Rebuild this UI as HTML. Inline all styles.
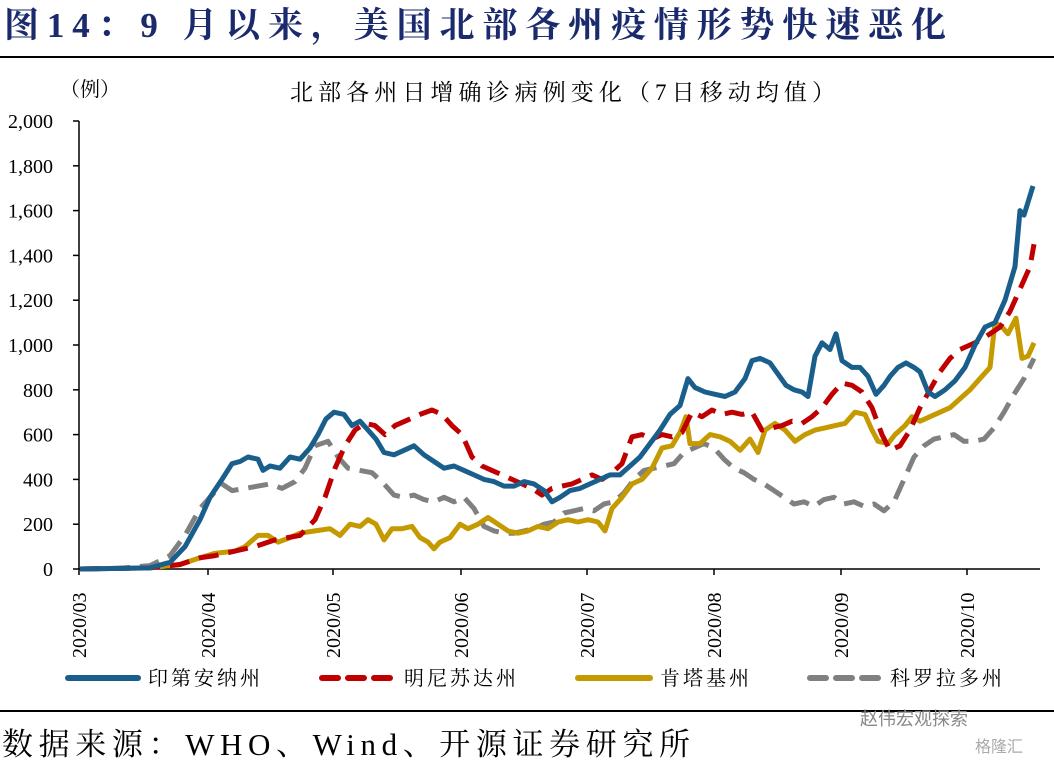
<!DOCTYPE html>
<html><head><meta charset="utf-8">
<style>
body{margin:0;background:#fff;width:1054px;height:766px;overflow:hidden;font-family:"Liberation Serif","Noto Serif CJK SC",serif;}
</style></head><body>
<svg width="1054" height="766" xmlns="http://www.w3.org/2000/svg" id="s" style="position:absolute;left:0;top:0">
<text x="4" y="37" font-size="35" font-weight="bold" fill="#1a2a6c" textLength="942" lengthAdjust="spacing" font-family="Liberation Serif,Noto Serif CJK SC,serif">图14：9 月以来，美国北部各州疫情形势快速恶化</text>
<line x1="0" y1="57" x2="1054" y2="57" stroke="#000" stroke-width="2"/>
<text x="60" y="96" font-size="20" fill="#000" font-family="Liberation Serif,Noto Serif CJK SC,serif">（例）</text>
<text x="290" y="100" font-size="23" fill="#000" textLength="545" lengthAdjust="spacing" font-family="Liberation Serif,Noto Serif CJK SC,serif">北部各州日增确诊病例变化（7日移动均值）</text>
<g id="axes" stroke="#000" stroke-width="1.5"></g>
<g id="lab" font-size="20" fill="#000" font-family="Liberation Serif,serif"></g>
<g id="lines" fill="none" stroke-linejoin="round"></g>
<g font-size="20" font-family="Liberation Serif,Noto Serif CJK SC,serif" letter-spacing="3">
<line x1="68" y1="678" x2="138" y2="678" stroke="#1a5f8c" stroke-width="6" stroke-linecap="round"/>
<text x="148" y="685">印第安纳州</text>
<line x1="322" y1="678" x2="392" y2="678" stroke="#c00000" stroke-width="6" stroke-dasharray="16,10" stroke-linecap="round"/>
<text x="404" y="685">明尼苏达州</text>
<line x1="578" y1="678" x2="650" y2="678" stroke="#c49a00" stroke-width="6" stroke-linecap="round"/>
<text x="660" y="685">肯塔基州</text>
<line x1="810" y1="678" x2="880" y2="678" stroke="#808080" stroke-width="6" stroke-dasharray="16,10" stroke-linecap="round"/>
<text x="890" y="685">科罗拉多州</text>
</g>
<line x1="0" y1="711" x2="1054" y2="711" stroke="#000" stroke-width="2"/>
<text x="2" y="755" font-size="31" fill="#000" textLength="688" lengthAdjust="spacing" font-family="Liberation Serif,Noto Serif CJK SC,serif">数据来源：WHO、Wind、开源证券研究所</text>
<text x="860" y="725" font-size="18" fill="#888" font-family="Liberation Sans,Noto Sans CJK SC,sans-serif">赵伟宏观探索</text>
<text x="975" y="752" font-size="16" fill="#aaa" font-family="Liberation Sans,Noto Sans CJK SC,sans-serif">格隆汇</text>
</svg>
<script>
var NS="http://www.w3.org/2000/svg";
function el(p,t,a,txt){var e=document.createElementNS(NS,t);for(var k in a)e.setAttribute(k,a[k]);if(txt!==undefined)e.textContent=txt;document.getElementById(p).appendChild(e);return e;}
function Y(v){return 569-v*0.224;}
el("axes","line",{x1:79,y1:121,x2:79,y2:569});
el("axes","line",{x1:79,y1:569,x2:1040,y2:569});
for(var v=0;v<=2000;v+=200){var y=Y(v);el("axes","line",{x1:73,y1:y,x2:79,y2:y});
el("lab","text",{x:53,y:y+7,"text-anchor":"end"},v.toLocaleString("en-US"));}
var mx=[79,208,333,461,587,714,841,967];
for(var i=0;i<mx.length;i++){el("axes","line",{x1:mx[i],y1:569,x2:mx[i],y2:575});
el("lab","text",{x:0,y:0,transform:"translate("+(mx[i]+7)+",658) rotate(-90)"},"2020/"+("0"+(i+3)).slice(-2));}
function L(pts,col,dash){var s=pts.map(function(p){return p[0]+","+Y(p[1]).toFixed(1)}).join(" ");var a={points:s,stroke:col,"stroke-width":5};if(dash){a["stroke-dasharray"]=dash;}el("lines","polyline",a);}
L([[80,0],[120,3],[150,15],[170,60],[185,150],[200,270],[210,320],[222,380],[232,350],[245,360],[258,370],[270,380],[282,360],[295,390],[305,450],[315,550],[328,570],[338,500],[348,450],[360,440],[372,430],[384,380],[394,330],[404,320],[414,330],[424,310],[434,300],[444,320],[454,300],[464,320],[474,270],[484,190],[494,170],[504,160],[514,160],[524,170],[534,180],[544,200],[554,210],[564,250],[574,260],[584,270],[594,260],[604,290],[614,300],[624,340],[634,400],[644,440],[654,450],[664,460],[674,470],[684,520],[694,540],[704,560],[714,540],[724,490],[734,450],[744,430],[754,400],[764,380],[774,350],[784,320],[794,290],[804,300],[814,280],[824,310],[834,320],[844,290],[854,300],[864,280],[874,290],[884,260],[894,300],[904,400],[914,500],[924,550],[934,580],[944,590],[954,600],[964,570],[974,570],[984,580],[994,630],[1004,700],[1014,780],[1024,850],[1034,940]],"#808080","20,10");
L([[80,0],[150,5],[180,20],[200,50],[215,70],[235,80],[245,100],[258,150],[268,150],[278,120],[290,140],[300,160],[315,170],[330,180],[340,150],[350,200],[360,190],[368,220],[376,200],[384,130],[392,180],[402,180],[412,190],[420,140],[428,120],[434,90],[440,120],[450,140],[460,200],[468,180],[478,200],[488,230],[498,200],[508,170],[518,160],[528,170],[538,190],[548,180],[558,210],[568,220],[578,210],[588,220],[598,210],[605,170],[612,270],[622,320],[632,380],[642,400],[652,450],[662,540],[672,550],[680,610],[686,680],[690,560],[700,560],[710,600],[720,590],[730,570],[740,530],[750,580],[758,520],[765,620],[775,650],[785,620],[795,570],[805,600],[815,620],[825,630],[835,640],[845,650],[855,700],[865,690],[872,620],[878,570],[888,560],[895,600],[905,640],[912,680],[920,660],[930,680],[940,700],[950,720],[960,760],[970,800],[980,850],[990,900],[995,1100],[1002,1080],[1008,1050],[1016,1120],[1022,940],[1028,950],[1034,1010]],"#c49a00");
L([[80,0],[150,5],[180,20],[200,50],[215,60],[235,80],[255,100],[275,130],[300,150],[315,220],[325,320],[335,450],[345,550],[355,620],[365,650],[375,640],[385,600],[395,640],[405,660],[420,690],[432,710],[442,690],[452,640],[462,600],[472,500],[482,460],[492,440],[502,420],[512,400],[522,380],[532,360],[542,330],[552,360],[562,370],[572,380],[582,400],[592,420],[602,400],[612,430],[622,470],[632,590],[642,600],[652,580],[662,600],[672,590],[682,610],[692,700],[702,680],[712,710],[722,690],[732,700],[742,690],[752,700],[762,620],[772,630],[782,640],[792,660],[802,650],[812,680],[822,720],[832,780],[842,830],[852,820],[862,790],[872,720],[882,600],[890,530],[900,550],[910,620],[920,720],[930,800],[940,880],[950,940],[960,980],[970,1000],[980,1020],[990,1050],[1000,1080],[1010,1150],[1020,1250],[1030,1350],[1034,1450]],"#c00000","20,10");
L([[80,0],[150,5],[170,30],[185,100],[200,220],[210,320],[222,400],[232,470],[240,480],[248,500],[258,490],[263,440],[270,460],[280,450],[290,500],[300,490],[310,540],[318,600],[326,670],[334,700],[344,690],[352,640],[360,660],[368,620],[376,580],[384,520],[394,510],[404,530],[414,550],[424,510],[434,480],[444,450],[454,460],[464,440],[474,420],[484,400],[494,390],[504,370],[514,370],[524,390],[534,380],[544,350],[552,300],[560,320],[570,350],[580,360],[590,380],[600,400],[610,420],[620,420],[630,460],[640,500],[650,560],[660,620],[670,690],[680,730],[688,850],[695,810],[705,790],[715,780],[725,770],[735,790],[745,850],[752,930],[760,940],[770,920],[778,870],[786,820],[794,800],[802,790],[808,770],[815,950],[822,1010],[830,980],[836,1050],[842,930],[852,900],[860,900],[868,860],[876,780],[884,820],[890,860],[898,900],[906,920],[914,900],[920,880],[928,790],[935,770],[945,800],[955,840],[965,900],[975,1000],[985,1080],[995,1100],[1005,1200],[1015,1350],[1020,1600],[1024,1580],[1033,1710]],"#1a5f8c");
</script>
</body></html>
